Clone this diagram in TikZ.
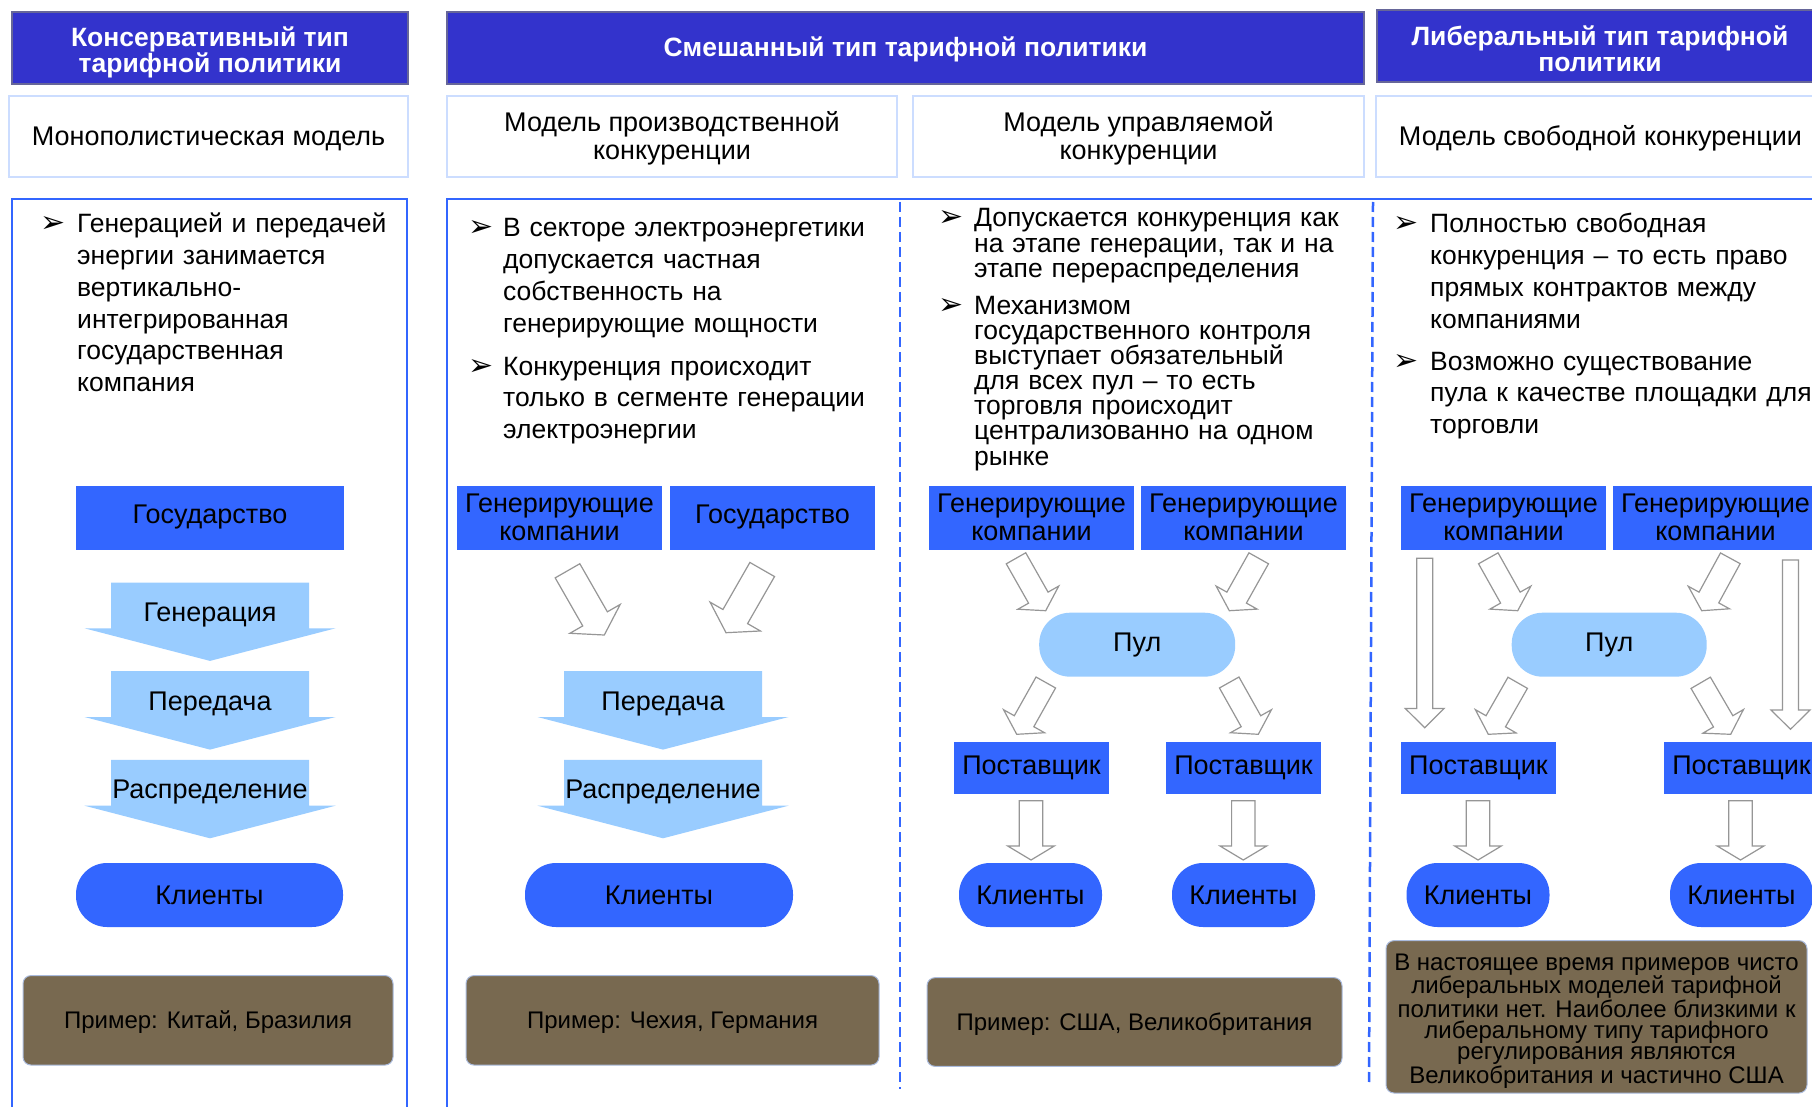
\documentclass[tikz,border=0pt]{standalone}
\usepackage{fontspec}
\setmainfont{Liberation Sans}
\newfontfamily\djv{DejaVu Sans}
\usetikzlibrary{calc}

\definecolor{hdrblue}{RGB}{51,51,204}
\definecolor{hdrborder}{RGB}{102,102,153}
\definecolor{mdlborder}{RGB}{204,221,255}
\definecolor{boxblue}{RGB}{51,102,255}
\definecolor{lightblue}{RGB}{153,204,255}
\definecolor{exbrown}{RGB}{120,105,80}
\definecolor{exborder}{RGB}{170,187,221}
\definecolor{arrgray}{RGB}{150,150,150}

\newcommand\hdrfont{\fontsize{26.5}{26}\selectfont\bfseries}
\newcommand\mdlfont{\fontsize{27}{28}\selectfont}
\newcommand\txtfont{\fontsize{26.5}{31.7}\selectfont}
\newcommand\tighttxtfont{\fontsize{26.5}{25.2}\selectfont}
\newcommand\lblfont{\fontsize{27}{27.7}\selectfont}
\newcommand\exfont{\fontsize{24}{24}\selectfont}
\newcommand\notefont{\fontsize{24}{21}\selectfont}

\tikzset{
  hdr/.style={fill=hdrblue, draw=hdrborder, line width=2pt, inner sep=0pt, minimum height=72pt},
  hdrtext/.style={text=white, font=\hdrfont, align=center, inner sep=0pt},
  mdl/.style={fill=white, draw=mdlborder, line width=1.5pt, inner sep=0pt, minimum height=81pt},
  mdltext/.style={font=\mdlfont, align=center, inner sep=0pt},
  bbox/.style={fill=boxblue, font=\lblfont, align=center, inner sep=0pt},
  pill/.style={fill=boxblue, rounded corners=31pt, font=\lblfont, align=center, inner sep=0pt, minimum height=64pt},
  lpill/.style={pill, fill=lightblue},
  lbl/.style={font=\lblfont, align=center, inner sep=0pt},
  ex/.style={fill=exbrown, draw=exborder, line width=1pt, rounded corners=8pt, inner sep=0pt},
  extext/.style={font=\exfont, align=center, inner sep=0pt},
  hollow/.style={draw=arrgray, fill=white, line width=1.2pt, line join=miter},
  frame/.style={draw=boxblue, line width=2.5pt},
  sep/.style={draw=boxblue, line width=2.5pt, dash pattern=on 10pt off 5pt},
  btext/.style={anchor=base west, inner sep=0pt, align=left, text width=400pt, font=\txtfont},
  bmark/.style={anchor=base west, inner sep=0pt, font=\djv\fontsize{30}{30}\selectfont},
}

% chevron: name, cx, top, label
\newcommand\chev[4]{%
  \fill[lightblue] (#2-99,#3) -- (#2+99,#3) -- (#2+99,#3+45.8) -- (#2+125.5,#3+45.8)
     -- (#2,#3+78.4) -- (#2-125.5,#3+45.8) -- (#2-99,#3+45.8) -- cycle;
  \node[lbl] (#1) at (#2,#3+32.5) {#4};
}
% hollow block arrow: start, end, shaft half width, head half width, head length
\newcommand\barrow[5]{%
  \coordinate (bh) at ($(#2)!#5pt!(#1)$);
  \draw[hollow] ($(#1)!#3pt!90:(#2)$) -- ($(bh)!#3pt!-90:(#1)$) -- ($(bh)!#4pt!-90:(#1)$)
     -- (#2) -- ($(bh)!#4pt!90:(#1)$) -- ($(bh)!#3pt!90:(#1)$) -- ($(#1)!#3pt!-90:(#2)$) -- cycle;
}

\begin{document}
\begin{tikzpicture}[x=1pt,y=-1pt]
\useasboundingbox (0,0) rectangle (1812,1107);
\clip (0,0) rectangle (1812,1107);
\fill[white] (0,0) rectangle (1812,1107);

% headers
\node[hdr, minimum width=396pt] (h1) at (210,48) {};
\node[hdrtext] (h1t) at ($(h1.center)+(0,4)$) {Консервативный тип\\тарифной политики};
\node[hdr, minimum width=917pt] (h2) at (905.5,48) {};
\node[hdrtext] (h2t) at ($(h2.center)+(0,1)$) {Смешанный тип тарифной политики};
\node[hdr, minimum width=446pt] (h3) at (1600,46) {};
\node[hdrtext] (h3t) at ($(h3.center)+(0,3)$) {Либеральный тип тарифной\\политики};

% models
\node[mdl, minimum width=399pt] (m1) at (208.5,136.5) {};
\node[mdltext] (m1t) at ($(m1.center)+(0,2)$) {Монополистическая модель};
\node[mdl, minimum width=450pt] (m2) at (672,136.5) {};
\node[mdltext] (m2t) at ($(m2.center)+(0,1.5)$) {Модель производственной\\конкуренции};
\node[mdl, minimum width=451pt] (m3) at (1138.5,136.5) {};
\node[mdltext] (m3t) at ($(m3.center)+(0,1.5)$) {Модель управляемой\\конкуренции};
\node[mdl, minimum width=449pt] (m4) at (1600.5,136.5) {};
\node[mdltext] (m4t) at ($(m4.center)+(0,2)$) {Модель свободной конкуренции};

% frames
\draw[frame] (12,1120) -- (12,199) -- (407,199) -- (407,1120);
\draw[frame] (447,1120) -- (447,199) -- (1830,199);
\draw[sep] (900,202) -- (900,1089);
\draw[sep] (1373,202) -- (1369,1083);

% bullets column 1
\node[bmark] (b1) at (40,233) {➢};
\node[btext] (t1) at (77,233) {Генерацией и передачей\\энергии занимается\\вертикально-\\интегрированная\\государственная\\компания};

% bullets column 2
\node[bmark] (b2a) at (468,237) {➢};
\node[btext] (t2a) at (503,237) {В секторе электроэнергетики\\допускается частная\\собственность на\\генерирующие мощности};
\node[bmark] (b2b) at (468,375) {➢};
\node[btext] (t2b) at (503,375) {Конкуренция происходит\\только в сегменте генерации\\электроэнергии};

% bullets column 3
\node[bmark] (b3a) at (938,227) {➢};
\node[btext, font=\tighttxtfont] (t3a) at (974,227) {Допускается конкуренция как\\на этапе генерации, так и на\\этапе перераспределения};
\node[bmark] (b3b) at (938,314) {➢};
\node[btext, font=\tighttxtfont] (t3b) at (974,314) {Механизмом\\государственного контроля\\выступает обязательный\\для всех пул – то есть\\торговля происходит\\централизованно на одном\\рынке};

% bullets column 4
\node[bmark] (b4a) at (1393,233) {➢};
\node[btext] (t4a) at (1430,233) {Полностью свободная\\конкуренция – то есть право\\прямых контрактов между\\компаниями};
\node[bmark] (b4b) at (1393,370) {➢};
\node[btext] (t4b) at (1430,370) {Возможно существование\\пула к качестве площадки для\\торговли};

% ---------- column 1 diagram
\node[bbox, minimum width=268pt, minimum height=64pt] (gos1) at (210,517.5) {Государство};
\chev{gen1}{210}{582.5}{Генерация}
\chev{per1}{210}{671.2}{Передача}
\chev{ras1}{210}{759.9}{Распределение}
\node[pill, minimum width=267pt] (kl1) at (209.5,895) {Клиенты};
\node[ex, minimum width=370pt, minimum height=89.5pt] (ex1) at (208,1020.3) {};
\node[extext] (ex1t) at ($(ex1.center)+(0,2)$) {Пример: Китай, Бразилия};

% ---------- column 2 diagram
\node[bbox, minimum width=205pt, minimum height=64pt] (gk2) at (559.5,517.5) {Генерирующие\\компании};
\node[bbox, minimum width=205pt, minimum height=64pt] (gos2) at (772.5,517.5) {Государство};
\coordinate (a2s) at (567.5,570.8); \coordinate (a2e) at (604.3,635);
\coordinate (b2s) at (762.2,569.5); \coordinate (b2e) at (726,632.7);
\barrow{a2s}{a2e}{14.2}{29}{18.6}
\barrow{b2s}{b2e}{14.2}{29}{18.6}
\chev{per2}{663}{671.2}{Передача}
\chev{ras2}{663}{759.9}{Распределение}
\node[pill, minimum width=268pt] (kl2) at (659,895) {Клиенты};
\node[ex, minimum width=413pt, minimum height=89.5pt] (ex2) at (672.5,1020.3) {};
\node[extext] (ex2t) at ($(ex2.center)+(0,2)$) {Пример: Чехия, Германия};

% ---------- column 3 diagram
\node[bbox, minimum width=205pt, minimum height=64pt] (gk3a) at (1031.5,517.5) {Генерирующие\\компании};
\node[bbox, minimum width=205pt, minimum height=64pt] (gk3b) at (1243.5,517.5) {Генерирующие\\компании};
\node[lpill, minimum width=196pt] (pul3) at (1137.2,644.7) {Пул};
\node[bbox, minimum width=155pt, minimum height=51.7pt] (ps3a) at (1031.5,767.9) {Поставщик};
\node[bbox, minimum width=155pt, minimum height=51.7pt] (ps3b) at (1243.5,767.9) {Поставщик};
\node[pill, minimum width=143pt] (kl3a) at (1030.5,895) {Клиенты};
\node[pill, minimum width=143pt] (kl3b) at (1243.5,895) {Клиенты};
\coordinate (c1s) at (1016,558.3); \coordinate (c1e) at (1045.7,610.7);
\coordinate (c2s) at (1258.7,558.3); \coordinate (c2e) at (1229.3,610.7);
\coordinate (c3s) at (1045.8,682.5); \coordinate (c3e) at (1016.7,734.3);
\coordinate (c4s) at (1229.2,682.5); \coordinate (c4e) at (1258.3,734.3);
\coordinate (c5s) at (1031,800.7); \coordinate (c5e) at (1031,860);
\coordinate (c6s) at (1243.3,800.7); \coordinate (c6e) at (1243.3,860);
\barrow{c1s}{c1e}{11.2}{23.5}{15}
\barrow{c2s}{c2e}{11.2}{23.5}{15}
\barrow{c3s}{c3e}{11.2}{23.5}{15}
\barrow{c4s}{c4e}{11.2}{23.5}{15}
\barrow{c5s}{c5e}{11.7}{23.3}{14}
\barrow{c6s}{c6e}{11.7}{23.3}{14}
\node[ex, minimum width=415pt, minimum height=88.7pt] (ex3) at (1134.5,1022) {};
\node[extext] (ex3t) at ($(ex3.center)+(0,2)$) {Пример: США, Великобритания};

% ---------- column 4 diagram
\node[bbox, minimum width=205pt, minimum height=64pt] (gk4a) at (1503.5,517.5) {Генерирующие\\компании};
\node[bbox, minimum width=205pt, minimum height=64pt] (gk4b) at (1715.5,517.5) {Генерирующие\\компании};
\node[lpill, minimum width=195pt] (pul4) at (1609.2,644.7) {Пул};
\node[bbox, minimum width=155pt, minimum height=51.7pt] (ps4a) at (1478.4,767.9) {Поставщик};
\node[bbox, minimum width=155pt, minimum height=51.7pt] (ps4b) at (1741.5,767.9) {Поставщик};
\node[pill, minimum width=143pt] (kl4a) at (1478,895) {Клиенты};
\node[pill, minimum width=143pt] (kl4b) at (1741.5,895) {Клиенты};
\coordinate (d1s) at (1424.7,558.3); \coordinate (d1e) at (1424.7,727.7);
\coordinate (d2s) at (1790.5,560); \coordinate (d2e) at (1790.5,729.3);
\coordinate (d3s) at (1488.3,558.3); \coordinate (d3e) at (1517.7,610.7);
\coordinate (d4s) at (1730.3,558.3); \coordinate (d4e) at (1701.7,610.7);
\coordinate (d5s) at (1517.7,682.8); \coordinate (d5e) at (1488.3,734.3);
\coordinate (d6s) at (1700.7,682.8); \coordinate (d6e) at (1730.7,734.3);
\coordinate (d7s) at (1478,800.7); \coordinate (d7e) at (1478,860);
\coordinate (d8s) at (1740.5,800.7); \coordinate (d8e) at (1740.5,860);
\barrow{d1s}{d1e}{8}{19.5}{19.3}
\barrow{d2s}{d2e}{8}{19.5}{19.3}
\barrow{d3s}{d3e}{11.2}{23.5}{15}
\barrow{d4s}{d4e}{11.2}{23.5}{15}
\barrow{d5s}{d5e}{11.2}{23.5}{15}
\barrow{d6s}{d6e}{11.2}{23.5}{15}
\barrow{d7s}{d7e}{11.7}{23.3}{14}
\barrow{d8s}{d8e}{11.7}{23.3}{14}
\node[ex, minimum width=421pt, minimum height=152.4pt] (ex4) at (1596.5,1016.8) {};
\node[extext, font=\notefont] (ex4t) at ($(ex4.center)+(0,4)$) {В настоящее время примеров чисто\\либеральных моделей тарифной\\политики нет. Наиболее близкими к\\либеральному типу тарифного\\регулирования являются\\Великобритания и частично США};
\end{tikzpicture}
\end{document}
